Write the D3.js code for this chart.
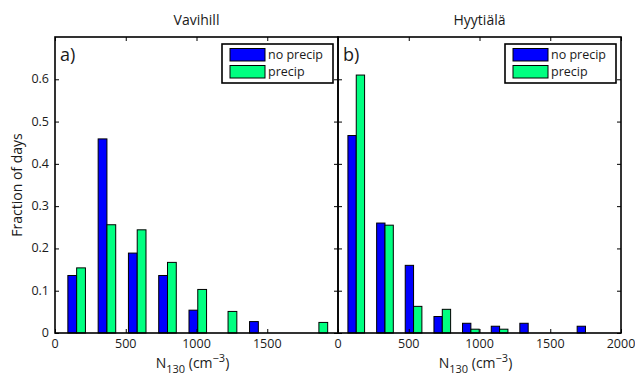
<!DOCTYPE html>
<html>
<head>
<meta charset="utf-8">
<script src="https://cdn.jsdelivr.net/npm/d3@7"></script>
<style>
  html, body { margin: 0; padding: 0; background: #fff; }
  svg text { font-family: "Open Sans", "DejaVu Sans", sans-serif; fill: #1a1a1a; }
</style>
</head>
<body>
<svg id="chart" width="635" height="380"></svg>
<script>
// Histogram bin centres (N130, cm^-3) for each site
const vavihillBins = [153, 367, 581, 795, 1009, 1223, 1437, 1651, 1865];
const hyytialaBins = [129, 332, 534, 737, 939, 1142, 1344, 1547, 1749];

// Fraction of days per bin
const vavihillNoPrecip = [0.136, 0.459, 0.189, 0.136, 0.054, 0, 0.027, 0, 0];
const vavihillPrecip   = [0.154, 0.256, 0.244, 0.167, 0.103, 0.051, 0, 0, 0.025];
const hyytialaNoPrecip = [0.467, 0.260, 0.160, 0.039, 0.023, 0.016, 0.023, 0, 0.016];
const hyytialaPrecip   = [0.610, 0.255, 0.063, 0.056, 0.009, 0.009, 0, 0, 0];

const xTicks = [0, 500, 1000, 1500, 2000];
const yTicks = [0, 0.1, 0.2, 0.3, 0.4, 0.5, 0.6];
const seriesNames = ["no precip", "precip"];
const seriesColors = ["#0000ff", "#00ff80"];

const panels = [
  { title: "Vavihill", tag: "a)", bins: vavihillBins, series: [vavihillNoPrecip, vavihillPrecip], left: 55, showY: true, xLabels: [0, 500, 1000, 1500] },
  { title: "Hyytiälä", tag: "b)", bins: hyytialaBins, series: [hyytialaNoPrecip, hyytialaPrecip], left: 338, showY: false, xLabels: xTicks }
];

const svg = d3.select("#chart");
const plotTop = 37, plotBottom = 333, panelW = 283;
const y = d3.scaleLinear().domain([0, 0.7]).range([plotBottom, plotTop]);

panels.forEach(p => {
  const x = d3.scaleLinear().domain([0, 2000]).range([p.left, p.left + panelW]);
  const g = svg.append("g");
  const spacing = p.bins[1] - p.bins[0];
  const half = spacing * 0.29;

  // grouped bars
  p.series.forEach((vals, si) => {
    g.selectAll(null)
      .data(vals.map((v, i) => ({ c: p.bins[i], v })))
      .enter().append("rect")
      .attr("x", d => si === 0 ? x(d.c - half) : x(d.c))
      .attr("width", d => x(d.c + half) - x(d.c))
      .attr("y", d => y(d.v))
      .attr("height", d => y(0) - y(d.v))
      .attr("fill", seriesColors[si])
      .attr("stroke", "#000")
      .attr("stroke-width", 1);
  });

  // inward ticks on all four sides
  const tl = 4;
  g.append("g").attr("transform", `translate(0,${plotBottom})`)
    .call(d3.axisBottom(x).tickValues(xTicks).tickSize(-tl).tickFormat(""))
    .call(a => a.select(".domain").remove());
  g.append("g").attr("transform", `translate(0,${plotTop})`)
    .call(d3.axisTop(x).tickValues(xTicks).tickSize(-tl).tickFormat(""))
    .call(a => a.select(".domain").remove());
  g.append("g").attr("transform", `translate(${p.left},0)`)
    .call(d3.axisLeft(y).tickValues(yTicks).tickSize(-tl).tickFormat(""))
    .call(a => a.select(".domain").remove());
  g.append("g").attr("transform", `translate(${p.left + panelW},0)`)
    .call(d3.axisRight(y).tickValues(yTicks).tickSize(-tl).tickFormat(""))
    .call(a => a.select(".domain").remove());
  g.selectAll(".tick line").attr("stroke", "#000");

  // axes box
  g.append("rect")
    .attr("x", p.left).attr("y", plotTop)
    .attr("width", panelW).attr("height", plotBottom - plotTop)
    .attr("fill", "none").attr("stroke", "#000").attr("stroke-width", 1.6);

  // tick labels
  g.selectAll(null).data(p.xLabels).enter().append("text")
    .attr("x", d => x(d)).attr("y", 348)
    .attr("text-anchor", "middle").attr("font-size", 12.5)
    .text(d => d);
  if (p.showY) {
    g.selectAll(null).data(yTicks).enter().append("text")
      .attr("x", p.left - 6).attr("y", d => y(d) + 4)
      .attr("text-anchor", "end").attr("font-size", 12.5)
      .text(d => d === 0 ? "0" : d3.format(".1f")(d));
  }

  // title
  g.append("text").attr("x", p.left + panelW / 2).attr("y", 25)
    .attr("text-anchor", "middle").attr("font-size", 14).text(p.title);

  // panel tag
  g.append("text").attr("x", p.left + 5).attr("y", 61)
    .attr("font-size", 18).text(p.tag);

  // x-axis label
  const xl = g.append("text").attr("x", p.left + panelW / 2 - 4).attr("y", 368)
    .attr("text-anchor", "middle").attr("font-size", 14);
  xl.append("tspan").text("N");
  xl.append("tspan").attr("dy", 5).attr("font-size", 11).text("130");
  xl.append("tspan").attr("dy", -5).text(" (cm");
  xl.append("tspan").attr("dy", -6).attr("font-size", 11).text("−3");
  xl.append("tspan").attr("dy", 6).text(")");

  // legend
  const lx = p.left + panelW - 116, ly = 44;
  const lg = g.append("g");
  lg.append("rect").attr("x", lx).attr("y", ly).attr("width", 111).attr("height", 39)
    .attr("fill", "#fff").attr("stroke", "#000").attr("stroke-width", 1.6);
  seriesNames.forEach((name, i) => {
    lg.append("rect").attr("x", lx + 8).attr("y", ly + 4.5 + i * 17)
      .attr("width", 35).attr("height", 12.5)
      .attr("fill", seriesColors[i]).attr("stroke", "#000").attr("stroke-width", 1);
    lg.append("text").attr("x", lx + 46).attr("y", ly + 15 + i * 17)
      .attr("font-size", 12.5).text(name);
  });
});

// shared y label
svg.append("text")
  .attr("transform", `translate(22,${(plotTop + plotBottom) / 2}) rotate(-90)`)
  .attr("text-anchor", "middle").attr("font-size", 14)
  .text("Fraction of days");
</script>
</body>
</html>
